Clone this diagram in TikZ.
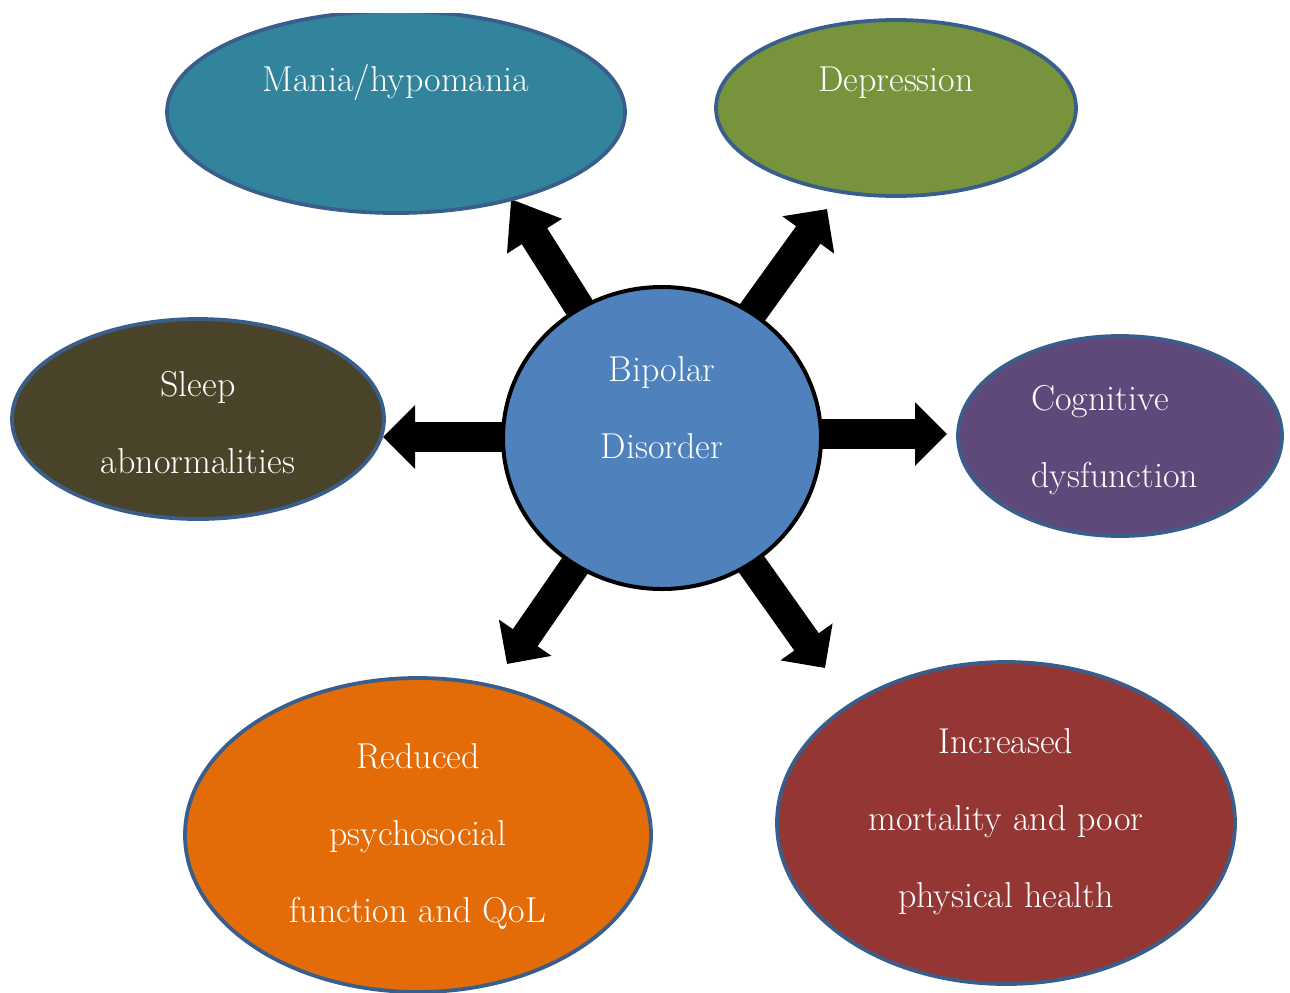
\documentclass[tikz,border=0pt]{standalone}
\usetikzlibrary{shapes.geometric,arrows.meta,backgrounds}
\definecolor{cTeal}{HTML}{31849B}
\definecolor{cGreen}{HTML}{77933C}
\definecolor{cOlive}{HTML}{494429}
\definecolor{cPurple}{HTML}{5F497A}
\definecolor{cOrange}{HTML}{E36C09}
\definecolor{cRed}{HTML}{943634}
\definecolor{cBlue}{HTML}{4F81BD}
\definecolor{bordc}{HTML}{3A5E8C}
\begin{document}
\begin{tikzpicture}[x=0.5pt,y=-0.5pt,
  blob/.style={ellipse, draw=bordc, line width=1.9pt, inner sep=0pt},
  lbl/.style={text=white, font=\fontsize{18}{38.5}\selectfont, align=center, inner sep=0pt},
  bigarrow/.style={line width=15pt, -{Triangle[length=16pt,width=31pt]}},
  longarrow/.style={line width=15pt, -{Triangle[length=22pt,width=31pt]}}
]
\useasboundingbox (0,0) rectangle (1290,992);
\clip (0,13) rectangle (1290,992);

\node[blob, fill=cTeal, minimum width=229pt, minimum height=101pt] (mania) at (396,112) {};
\node[blob, fill=cGreen, minimum width=180pt, minimum height=88pt] (dep) at (896,108) {};
\node[blob, fill=cOlive, minimum width=186pt, minimum height=100pt] (sleep) at (198,419) {};
\node[blob, fill=cPurple, minimum width=162pt, minimum height=100pt] (cog) at (1120,436) {};
\node[blob, fill=cOrange, minimum width=233pt, minimum height=157pt] (qol) at (418,835) {};
\node[blob, fill=cRed, minimum width=229pt, minimum height=161pt] (mort) at (1006,823) {};
\node[ellipse, draw=black, line width=2pt, fill=cBlue, inner sep=0pt, minimum width=159pt, minimum height=151pt] (c) at (662,438) {};

\coordinate (tUL) at (511,199);
\coordinate (tUR) at (827,209);
\coordinate (tR) at (947,434);
\coordinate (tL) at (383,437);
\coordinate (tLL) at (507,664);
\coordinate (tLR) at (825,668);

\begin{scope}[on background layer]
  \draw[longarrow] (c.center) -- (tUL);
  \draw[bigarrow] (c.center) -- (tUR);
  \draw[bigarrow] (c.center |- tR) -- (tR);
  \draw[bigarrow] (c.center |- tL) -- (tL);
  \draw[bigarrow] ([shift={(15,-20)}]c.center) -- (tLL);
  \draw[bigarrow] (c.center) -- (tLR);
\end{scope}

\node[lbl, anchor=base] (lmania) at (396,91) {Mania/hypomania};
\node[lbl, anchor=base] (ldep) at (896,91) {Depression};
\node[lbl] (lsleep) at (198,423) {Sleep\\abnormalities};
\node[lbl, align=left, anchor=west] (lcog) at (1031,440) {Cognitive\\dysfunction};
\node[lbl] (lc) at (662,408) {Bipolar\\Disorder};
\node[lbl] (lqol) at (418,836) {Reduced\\psychosocial\\function and QoL};
\node[lbl] (lmort) at (1006,822) {Increased\\mortality and poor\\physical health};
\end{tikzpicture}
\end{document}
